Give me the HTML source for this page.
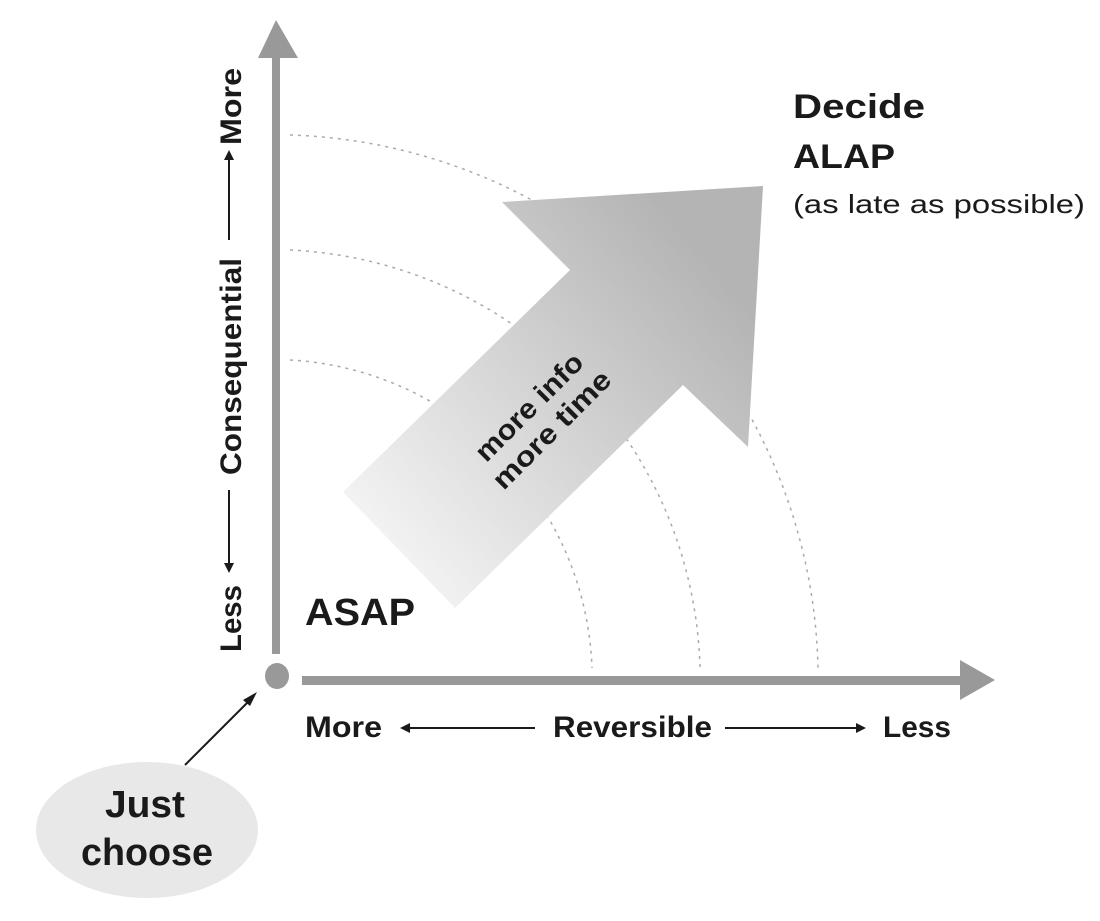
<!DOCTYPE html>
<html><head><style>
body{margin:0;background:#fff}
svg text{font-family:"Liberation Sans",sans-serif;font-weight:bold;fill:#1a1a1a}
</style></head><body>
<svg width="1100" height="916" viewBox="0 0 1100 916" xmlns="http://www.w3.org/2000/svg">
<defs>
<linearGradient id="g" x1="343" y1="550" x2="700" y2="250" gradientUnits="userSpaceOnUse">
<stop offset="0" stop-color="#f8f8f8"/><stop offset="0.5" stop-color="#d6d6d6"/><stop offset="1" stop-color="#b4b4b4"/>
</linearGradient>
</defs>
<g fill="none" stroke="#aaa" stroke-width="1.5" stroke-dasharray="3,5">
<path d="M290 135 A545 545 0 0 1 818 668"/>
<path d="M290 250 A430 430 0 0 1 700 668"/>
<path d="M290 360 A320 320 0 0 1 592 668"/>
</g>
<polygon points="343,492 570,270 502,202 763,186 748,447 683,385 455,608" fill="url(#g)"/>
<text transform="translate(540,418) rotate(-45)" text-anchor="middle" font-size="28"><tspan x="0" y="-6" textLength="140" lengthAdjust="spacingAndGlyphs">more info</tspan><tspan x="0" y="26" textLength="155" lengthAdjust="spacingAndGlyphs">more time</tspan></text>
<rect x="272" y="56" width="8" height="598" fill="#999"/>
<polygon points="258,58 276,20 298,58" fill="#999"/>
<rect x="302" y="676" width="660" height="9" fill="#999"/>
<polygon points="960,660 995,680 960,700" fill="#999"/>
<ellipse cx="277" cy="676" rx="12" ry="13" fill="#999"/>
<text x="793" y="118" font-size="34" textLength="132" lengthAdjust="spacingAndGlyphs">Decide</text>
<text x="793" y="168" font-size="34" textLength="102" lengthAdjust="spacingAndGlyphs">ALAP</text>
<text x="793" y="213" font-size="26" textLength="292" lengthAdjust="spacingAndGlyphs" style="font-weight:normal">(as late as possible)</text>
<text x="305" y="625" font-size="38" textLength="110" lengthAdjust="spacingAndGlyphs">ASAP</text>
<text x="305" y="737" font-size="30" textLength="77" lengthAdjust="spacingAndGlyphs">More</text>
<text x="553" y="737" font-size="30" textLength="159" lengthAdjust="spacingAndGlyphs">Reversible</text>
<text x="883" y="737" font-size="30" textLength="68" lengthAdjust="spacingAndGlyphs">Less</text>
<g stroke="#1a1a1a" stroke-width="2"><line x1="408" y1="728" x2="535" y2="728"/><line x1="725" y1="728" x2="858" y2="728"/>
<line x1="229" y1="240" x2="229" y2="158"/><line x1="229" y1="490" x2="229" y2="565"/>
<line x1="185" y1="765" x2="250" y2="700"/></g>
<polygon points="400,728 410,723 410,733" fill="#1a1a1a"/>
<polygon points="866,728 856,723 856,733" fill="#1a1a1a"/>
<polygon points="229,150 224,160 234,160" fill="#1a1a1a"/>
<polygon points="229,573 224,563 234,563" fill="#1a1a1a"/>
<polygon points="257,692 243,700 250,706" fill="#1a1a1a"/>
<g transform="translate(241,0) rotate(-90)" font-size="30">
<text x="-145" y="0" textLength="77" lengthAdjust="spacingAndGlyphs">More</text>
<text x="-475" y="0" textLength="217" lengthAdjust="spacingAndGlyphs">Consequential</text>
<text x="-652" y="0" textLength="67" lengthAdjust="spacingAndGlyphs">Less</text>
</g>
<ellipse cx="147" cy="830" rx="111" ry="68" fill="#e8e8e8"/>
<text x="105" y="817" font-size="38" textLength="80" lengthAdjust="spacingAndGlyphs">Just</text>
<text x="81" y="865" font-size="38" textLength="132" lengthAdjust="spacingAndGlyphs">choose</text>
</svg>
</body></html>
